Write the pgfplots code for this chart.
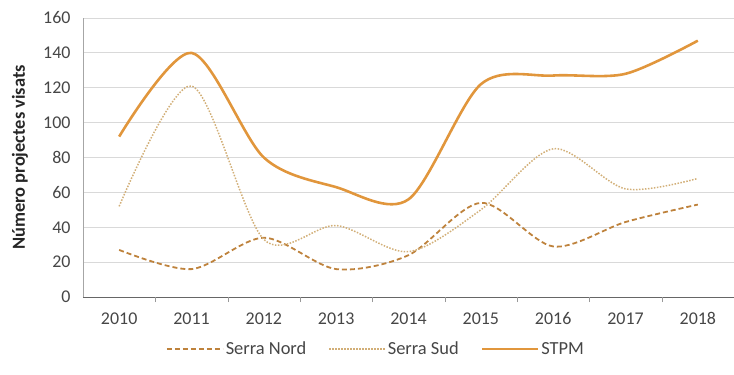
\documentclass[border=0pt]{standalone}
\usepackage{pgfplots}
\pgfplotsset{compat=1.18}
\usepackage{fontspec}
\setmainfont{Carlito}
\definecolor{stpm}{RGB}{225,150,60}
\definecolor{nord}{RGB}{190,130,60}
\definecolor{sud}{RGB}{210,175,120}
\definecolor{gridc}{RGB}{217,217,217}
\definecolor{txt}{RGB}{70,70,70}
\begin{document}
\begin{tikzpicture}[x=1bp,y=1bp]
\begin{axis}[
  at={(0,0)}, anchor=south west,
  scale only axis, width=651bp, height=279bp,
  xmin=-0.5, xmax=8.5, ymin=0, ymax=160,
  xtick={0,...,8}, xticklabels={2010,2011,2012,2013,2014,2015,2016,2017,2018},
  extra x ticks={0.5,1.5,...,7.5}, extra x tick labels={},
  extra x tick style={major tick length=5bp, tick align=outside, tick style={color=gray!80}, grid=none},
  ytick={0,20,...,160},
  major tick length=0pt,
  ymajorgrids, grid style={gridc, line width=1pt},
  axis x line*=bottom, axis y line*=left,
  x axis line style={gray!80!black, line width=1pt, -},
  y axis line style={gray!70, line width=1pt, -},
  tick label style={font=\fontsize{18}{20}\selectfont, text=txt},
  /pgf/number format/assume math mode=true,
  xticklabel style={yshift=-12bp},
  yticklabel style={xshift=-9bp},
  ylabel={Número projectes visats},
  every axis y label/.style={at={(axis description cs:0,0.5)}, xshift=-63bp, rotate=90, anchor=center,
     font=\fontsize{18.5}{20}\selectfont\bfseries, text=black!85},
  legend style={at={(0.45,-0.1864)}, anchor=center, draw=none, legend columns=3,
    font=\fontsize{18.5}{20}\selectfont, text=txt, inner sep=0pt,
    /tikz/every even column/.append style={column sep=20bp}},
  legend image code/.code={\draw[#1] (0bp,0bp) -- (56bp,0bp);},
  legend cell align=left,
  clip=false,
]
\addplot[nord, line width=1.8pt, dash pattern=on 5bp off 3bp, smooth, tension=0.5] coordinates {
(0,27) (1,16) (2,34) (3,16) (4,24) (5,54) (6,29) (7,43) (8,53)};
\addlegendentry{Serra Nord}
\addplot[sud, line width=1.5pt, dash pattern=on 1.5bp off 1.5bp, smooth, tension=0.5] coordinates {
(0,52) (1,121) (2,33) (3,41) (4,26) (5,50) (6,85) (7,62) (8,68)};
\addlegendentry{Serra Sud}
\addplot[stpm, line width=2.6pt, smooth, tension=0.5] coordinates {
(0,92) (1,140) (2,80) (3,63) (4,56) (5,122) (6,127) (7,128) (8,147)};
\addlegendentry{STPM}
\end{axis}
\pgfresetboundingbox
\path[use as bounding box] (-83,-77) rectangle (651,297);
\end{tikzpicture}
\end{document}
